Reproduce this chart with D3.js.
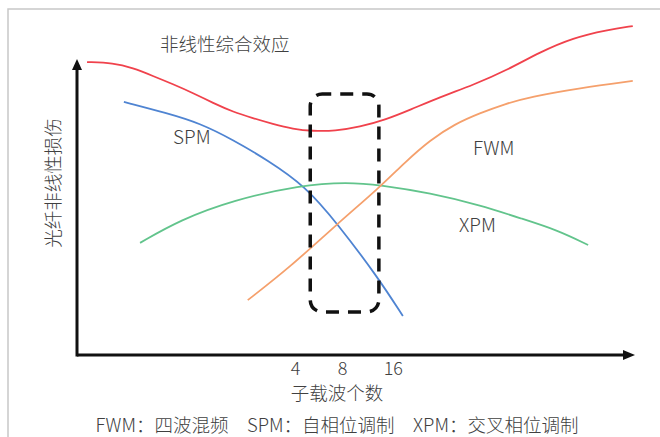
<!DOCTYPE html>
<html><head><meta charset="utf-8">
<script src="https://cdn.jsdelivr.net/npm/d3@7"></script>
<style>body{margin:0;background:#fff}svg{display:block}text{font-family:"Noto Sans CJK SC","Noto Sans",sans-serif;fill:#404040;font-weight:300}</style>
</head><body><svg id="c" width="660" height="437"></svg>
<script>
// Data (x: relative subcarrier axis 0-100, y: relative impairment 0-100)
const totalX = [1.8, 6.5, 10.0, 13.6, 17.2, 20.8, 24.4, 28.0, 31.5, 35.1, 38.7, 42.3, 46.2, 50.7, 55.2, 59.7, 65.1, 71.0, 77.1, 83.0, 88.9, 95.0, 99.6];
const totalY = [99.3, 99.0, 97.3, 94.6, 91.8, 88.8, 85.4, 82.4, 80.3, 78.3, 76.6, 75.9, 75.9, 77.3, 79.7, 83.1, 87.5, 91.5, 96.6, 102.7, 107.5, 110.2, 111.5];
const spmX = [8.4, 16.1, 22.0, 28.0, 34.1, 40.9, 46.6, 53.9, 58.4];
const spmY = [85.8, 82.0, 78.6, 72.9, 66.1, 57.3, 44.7, 26.4, 13.2];
const xpmX = [11.3, 18.5, 28.0, 40.0, 48.6, 54.3, 63.3, 72.2, 79.9, 86.0, 91.6];
const xpmY = [38.0, 45.8, 52.5, 57.6, 58.6, 57.6, 54.9, 50.8, 46.1, 42.4, 37.3];
const fwmX = [30.6, 38.2, 46.6, 54.3, 58.8, 63.3, 67.7, 72.2, 76.7, 81.2, 90.1, 99.6];
const fwmY = [18.6, 29.8, 44.4, 56.9, 65.4, 72.9, 78.3, 82.0, 85.1, 87.5, 90.5, 92.9];
const tickPos = [39.1, 47.5, 56.6];
const tickLabels = ["4", "8", "16"];
const boxX = [41.8, 54.1];
const boxY = [14.6, 88.5];

const svg = d3.select("#c");
const x = d3.scaleLinear().domain([0, 100]).range([77, 635]);
const y = d3.scaleLinear().domain([0, 100]).range([355, 60]);

// frame
svg.append("path").attr("d", "M8,437 V9 H660").attr("fill", "none").attr("stroke", "#c8c8c8").attr("stroke-width", 1.5);

// curves
const line = d3.line().x(d => x(d[0])).y(d => y(d[1])).curve(d3.curveBasis);
const series = [
  {xs: totalX, ys: totalY, color: "#f0424c"},
  {xs: spmX, ys: spmY, color: "#4f84d2"},
  {xs: xpmX, ys: xpmY, color: "#62c48c"},
  {xs: fwmX, ys: fwmY, color: "#f5a06c"}
];
series.forEach(s => {
  svg.append("path").datum(s.xs.map((v, i) => [v, s.ys[i]]))
    .attr("d", line).attr("fill", "none").attr("stroke", s.color).attr("stroke-width", 1.8);
});

// dashed box
svg.append("rect")
  .attr("x", x(boxX[0])).attr("y", y(boxY[1]))
  .attr("width", x(boxX[1]) - x(boxX[0])).attr("height", y(boxY[0]) - y(boxY[1]))
  .attr("rx", 12).attr("ry", 12)
  .attr("fill", "none").attr("stroke", "#111").attr("stroke-width", 3.5)
  .attr("stroke-dasharray", "13,9").attr("stroke-dashoffset", 4);

// axes
const xAxis = d3.axisBottom(x).tickValues(tickPos).tickFormat((d, i) => tickLabels[i]).tickSize(0).tickPadding(7);
const gx = svg.append("g").attr("transform", `translate(0,${y(0)})`).call(xAxis);
gx.select(".domain").remove();
gx.selectAll("text").style("font-size", "18px").attr("fill", "#404040").style("font-family", "'Noto Sans CJK SC','Noto Sans',sans-serif").style("font-weight", 300);

svg.append("line").attr("x1", x(0)).attr("x2", 626).attr("y1", y(0)).attr("y2", y(0)).attr("stroke", "#111").attr("stroke-width", 3);
svg.append("line").attr("x1", x(0)).attr("x2", x(0)).attr("y1", y(0) + 1.5).attr("y2", 68).attr("stroke", "#111").attr("stroke-width", 3);
svg.append("path").attr("d", `M${x(0) - 5},70 L${x(0)},59 L${x(0) + 5},70 Z`).attr("fill", "#111");
svg.append("path").attr("d", `M623,${y(0) - 5} L635,${y(0)} L623,${y(0) + 5} Z`).attr("fill", "#111");

// labels
const lbl = (t, px, py, size, anchor) => svg.append("text").text(t).attr("x", px).attr("y", py)
  .attr("font-size", size).attr("text-anchor", anchor || "start").attr("dominant-baseline", "central");
lbl("非线性综合效应", 160, 43, 18.5);
lbl("SPM", 173, 135, 19);
lbl("FWM", 473, 146, 19);
lbl("XPM", 459, 223, 19);
lbl("子载波个数", 337, 392, 18.5, "middle");
lbl("FWM：四波混频　SPM：自相位调制　XPM：交叉相位调制", 337, 424, 18.5, "middle");
svg.append("text").text("光纤非线性损伤").attr("transform", "translate(52,183) rotate(-90)")
  .attr("font-size", 18.5).attr("text-anchor", "middle").attr("dominant-baseline", "central");
</script></body></html>
